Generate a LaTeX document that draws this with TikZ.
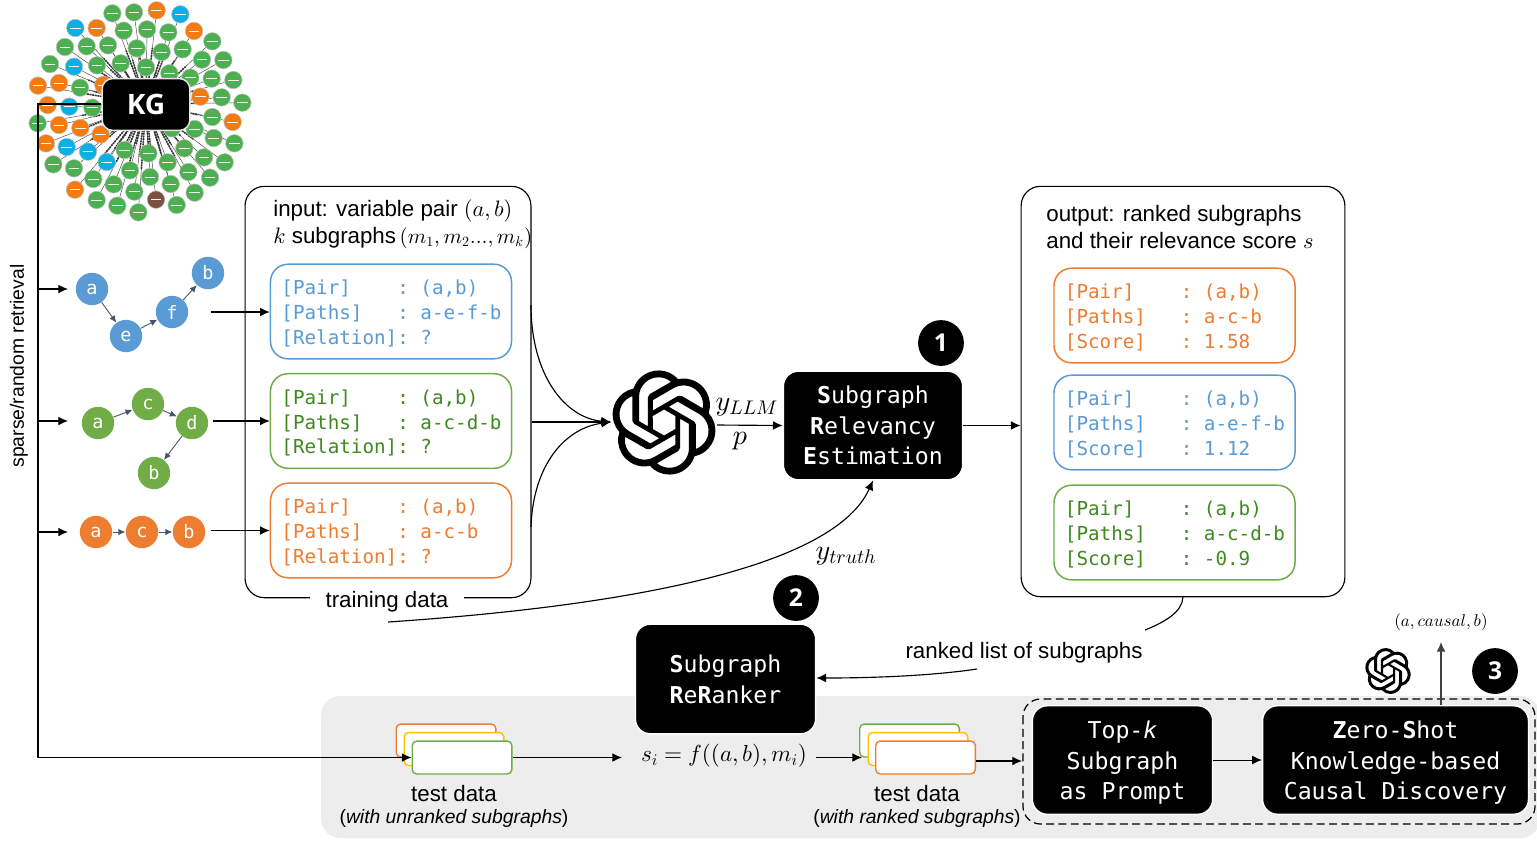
\documentclass[tikz,border=0pt]{standalone}
\usepackage[no-math]{fontspec}
\usepackage{amsmath}
\setmainfont{Liberation Sans}
\setmonofont{DejaVu Sans Mono}
\newfontfamily\kgfont{Open Sans}
\DeclareFontShape{OML}{cmm}{m}{it}{<-8>cmmi7 <8->cmmi10}{}
\DeclareFontShape{OT1}{cmr}{m}{n}{<-8>cmr7 <8->cmr10}{}
\usetikzlibrary{arrows.meta,positioning,calc,backgrounds,svg.path}
\definecolor{cblue}{HTML}{5B9BD5}
\definecolor{cgreen}{HTML}{70AD47}
\definecolor{cgreentext}{HTML}{3F8A1F}
\definecolor{corange}{HTML}{ED7D31}
\definecolor{cyellow}{HTML}{FFC000}
\definecolor{cslate}{HTML}{44546A}
\definecolor{cpanel}{HTML}{EDEDED}
\definecolor{kggreen}{HTML}{4CAF50}
\definecolor{kgorange}{HTML}{F57A10}
\definecolor{kgblue}{HTML}{0AB0E4}
\definecolor{kgbrown}{HTML}{7B5040}
\def\pxu{0.5669pt}
\newcommand{\codesp}{\hphantom{x}}
\tikzset{
  arrowline/.style={-{Latex[length=5.5pt,width=5pt]},line width=.65pt},
  panelbox/.style={draw=black,line width=.65pt,rounded corners=11pt},
  codebox/.style={draw,line width=.85pt,rounded corners=10pt,fill=white,align=left,
    minimum width=242*\pxu,minimum height=95*\pxu,text width=220*\pxu,inner sep=0pt,
    font=\ttfamily\fontsize{10.95}{14.17}\selectfont,execute at begin node={\rule{0pt}{10.6pt}}},
  blackbox/.style={fill=black,draw=white,line width=.8pt,rounded corners=8.5pt,text=white,
    align=center,inner sep=0pt,font=\ttfamily\fontsize{13.2}{17.5}\selectfont},
  badge/.style={circle,fill=black,text=white,minimum size=46*\pxu,inner sep=0pt,
    font=\kgfont\bfseries\fontsize{14}{16}\selectfont},
  plaintext/.style={inner sep=0pt,font=\fontsize{12.7}{15}\selectfont},
  smalltext/.style={inner sep=0pt,font=\fontsize{11}{13}\selectfont},
  mathlabel/.style={inner sep=0pt,font=\fontsize{16}{18}\selectfont},
  stackcard/.style={draw,line width=.8pt,fill=white,rounded corners=2.5pt,
    minimum width=100*\pxu,minimum height=33*\pxu,inner sep=0pt},
  kgdot/.style={circle,draw=black!25,line width=.3pt,minimum size=17.6*\pxu,inner sep=0pt,text=white!80!black!10,font=\fontsize{2}{2}\selectfont},
  oailogo/.pic={\fill[even odd rule,shift={(-12pt,12pt)},yscale=-1] svg {M22.2819 9.8211a5.9847 5.9847 0 0 0-.5157-4.9108 6.0462 6.0462 0 0 0-6.5098-2.9A6.0651 6.0651 0 0 0 4.9807 4.1818a5.9847 5.9847 0 0 0-3.9977 2.9 6.0462 6.0462 0 0 0 .7427 7.0966 5.98 5.98 0 0 0 .511 4.9107 6.051 6.051 0 0 0 6.5146 2.9001A5.9847 5.9847 0 0 0 13.2599 24a6.0557 6.0557 0 0 0 5.7718-4.2058 5.9894 5.9894 0 0 0 3.9977-2.9001 6.0557 6.0557 0 0 0-.7475-7.0729z M13.2599 22.4292a4.4755 4.4755 0 0 1-2.8764-1.0408l.1419-.0804 4.7783-2.7582a.7948.7948 0 0 0 .3927-.6813v-6.7369l2.02 1.1686a.071.071 0 0 1 .038.052v5.5826a4.504 4.504 0 0 1-4.4945 4.4944z M3.5992 18.3038a4.4708 4.4708 0 0 1-.5346-3.0137l.142.0852 4.783 2.7582a.7712.7712 0 0 0 .7806 0l5.8428-3.3685v2.3324a.0804.0804 0 0 1-.0332.0615L9.74 19.9502a4.4992 4.4992 0 0 1-6.1408-1.6464z M2.3408 7.8956a4.485 4.485 0 0 1 2.3655-1.9728V11.6a.7664.7664 0 0 0 .3879.6765l5.8144 3.3543-2.0201 1.1685a.0757.0757 0 0 1-.071 0l-4.8303-2.7865A4.504 4.504 0 0 1 2.3408 7.872z M18.9371 11.7514L13.1038 8.364 15.1192 7.2a.0757.0757 0 0 1 .071 0l4.8303 2.7913a4.4944 4.4944 0 0 1-.6765 8.1042v-5.6772a.79.79 0 0 0-.407-.667z M20.9478 8.7283l-.142-.0852-4.7735-2.7818a.7759.7759 0 0 0-.7854 0L9.409 9.2297V6.8974a.0662.0662 0 0 1 .0284-.0615l4.8303-2.7866a4.4992 4.4992 0 0 1 6.6802 4.66z M8.3065 12.863l-2.02-1.1638a.0804.0804 0 0 1-.038-.0567V6.0742a4.4992 4.4992 0 0 1 7.3757-3.4537l-.142.0805L8.704 5.459a.7948.7948 0 0 0-.3927.6813z M9.4041 10.4976l2.602-1.4998 2.6069 1.4998v2.9994l-2.5974 1.4997-2.6067-1.4997Z};}
}
\begin{document}
\begin{tikzpicture}[x=0.02cm,y=-0.02cm]
        \useasboundingbox (0,0) rectangle (1537,840);
        % knowledge graph cloud
        \coordinate (kgc) at (146,104);
        \foreach \px/\py/\cc [count=\i] in {337/40/kggreen,402/37/kggreen,470/31/kgorange,541/43/kgblue,226/84/kgblue,290/84/kgorange,371/92/kggreen,441/88/kggreen,505/97/kggreen,582/93/kgorange,637/124/kggreen,195/141/kggreen,260/139/kggreen,324/136/kggreen,410/145/kggreen,485/156/kggreen,548/148/kggreen,606/179/kggreen,670/180/kggreen,150/192/kggreen,222/200/kgblue,291/196/kggreen,362/190/kggreen,438/202/kggreen,508/220/kggreen,571/233/kggreen,635/236/kggreen,700/240/kggreen,114/257/kgorange,177/249/kgorange,240/263/kggreen,310/255/kgorange,601/290/kgorange,665/292/kggreen,727/308/kggreen,143/315/kgorange,208/320/kgblue,277/323/kggreen,113/370/kggreen,177/375/kgorange,241/384/kgorange,302/403/kgorange,637/351/kggreen,698/366/kgorange,584/387/kggreen,516/385/kggreen,641/414/kggreen,703/430/kggreen,138/430/kgorange,200/441/kgblue,264/455/kgblue,320/486/kgblue,374/450/kggreen,445/460/kggreen,553/445/kggreen,612/472/kggreen,674/487/kggreen,160/493/kggreen,222/505/kggreen,503/487/kggreen,565/516/kggreen,630/533/kggreen,390/511/kggreen,450/531/kggreen,280/537/kggreen,225/569/kgorange,341/553/kggreen,512/552/kggreen,584/578/kggreen,403/575/kggreen,468/599/kgbrown,530/615/kggreen,290/600/kggreen,352/617/kggreen,415/637/kggreen} {
          \node[kgdot,fill=\cc] (kg\i) at (\px/3,\py/3) {\rule{6pt}{.55pt}};
          \begin{pgfonlayer}{background}
            \draw[black!75,line width=.25pt] (kgc) -- (kg\i);
            \draw[black!80,line width=.9pt,dash pattern=on 1pt off .5pt] (kgc) -- ($(kgc)!.6!(kg\i)$);
          \end{pgfonlayer}
        }
        \node[blackbox,draw=black!10,rounded corners=6pt,minimum width=88*\pxu,minimum height=52*\pxu,font=\kgfont\bfseries\fontsize{16}{18}\selectfont] (kg) at (146,104.5) {KG};
        % retrieval line
        \coordinate (topline) at (38,104);
        \coordinate (botline) at (38,757.5);
        \coordinate (splitA) at (38,289);
        \coordinate (splitB) at (38,421);
        \coordinate (splitC) at (38,532);
        \node[plaintext,font=\fontsize{11}{14}\selectfont,rotate=90] (retrieval) at (19,366) {sparse/random retrieval};
        % panels
        \fill[cpanel,rounded corners=11pt] (321,696) rectangle (1540,838);
        \node[panelbox,minimum width=287*\pxu,minimum height=413*\pxu] (inpanel) at (388,392) {};
        \node[panelbox,minimum width=325*\pxu,minimum height=412*\pxu] (outpanel) at (1183,391.5) {};
        \node[plaintext,anchor=base west] (intextA) at (273,216.7) {input: variable pair $(a,b)$};
        \node[plaintext,anchor=base west] (intextB) at (273,243.5) {$k$ subgraphs\fontsize{12}{15}\selectfont$\,(m_1,m_2...,m_k)$};
        \node[plaintext,anchor=base west] (outtextA) at (1046,221) {output: ranked subgraphs};
        \node[plaintext,anchor=base west] (outtextB) at (1046,248) {and their relevance score $s$};
        \node[plaintext,fill=white,inner xsep=9pt,inner ysep=1pt] (traindata) at (387,602) {training data};
        % subgraph boxes, input side
        \node[codebox,draw=cblue,text=cblue] (inblue) at (391,311.5) {[Pair]\codesp\codesp\codesp\codesp:\codesp(a,b)\\\relax [Paths]\codesp\codesp\codesp:\codesp a-e-f-b\\\relax [Relation]:\codesp ?};
        \node[codebox,draw=cgreen,text=cgreentext] (ingreen) at (391,421) {[Pair]\codesp\codesp\codesp\codesp:\codesp(a,b)\\\relax [Paths]\codesp\codesp\codesp:\codesp a-c-d-b\\\relax [Relation]:\codesp ?};
        \node[codebox,draw=corange,text=corange] (inorange) at (391,530.5) {[Pair]\codesp\codesp\codesp\codesp:\codesp(a,b)\\\relax [Paths]\codesp\codesp\codesp:\codesp a-c-b\\\relax [Relation]:\codesp ?};
        % subgraph boxes, output side
        \node[codebox,draw=corange,text=corange] (outorange) at (1174.5,315.5) {[Pair]\codesp\codesp\codesp\codesp:\codesp(a,b)\\\relax [Paths]\codesp\codesp\codesp:\codesp a-c-b\\\relax [Score]\codesp\codesp\codesp:\codesp 1.58};
        \node[codebox,draw=cblue,text=cblue] (outblue) at (1174.5,422.5) {[Pair]\codesp\codesp\codesp\codesp:\codesp(a,b)\\\relax [Paths]\codesp\codesp\codesp:\codesp a-e-f-b\\\relax [Score]\codesp\codesp\codesp:\codesp 1.12};
        \node[codebox,draw=cgreen,text=cgreentext] (outgreen) at (1174.5,532.5) {[Pair]\codesp\codesp\codesp\codesp:\codesp(a,b)\\\relax [Paths]\codesp\codesp\codesp:\codesp a-c-d-b\\\relax [Score]\codesp\codesp\codesp:\codesp -0.9};
        % small graphs
        \begin{scope}[every node/.style={circle,minimum size=32.5*\pxu,inner sep=0pt,text=white,font=\ttfamily\fontsize{10.5}{12}\selectfont},
            every edge/.style={draw=cslate,line width=.5pt,-{Latex[length=4pt,width=3.6pt]}}]
          \node[fill=cblue] (ba) at (92,289) {a};
          \node[fill=cblue] (be) at (126,336) {e};
          \node[fill=cblue] (bf) at (172,312) {f};
          \node[fill=cblue] (bb) at (208,273) {b};
          \path (ba) edge (be);
          \path (be) edge (bf);
          \path (bf) edge (bb);
          \node[fill=cgreen] (ga) at (98,423) {a};
          \node[fill=cgreen] (gc) at (148,404) {c};
          \node[fill=cgreen] (gd) at (192,423) {d};
          \node[fill=cgreen] (gb) at (154,473) {b};
          \path (ga) edge (gc);
          \path (gc) edge (gd);
          \path (gd) edge (gb);
          \node[fill=corange] (oa) at (96,532) {a};
          \node[fill=corange] (oc) at (142,532) {c};
          \node[fill=corange] (ob) at (189,532) {b};
          \path (oa) edge (oc);
          \path (oc) edge (ob);
        \end{scope}
        \draw[line width=.65pt] (kg.west |- topline) -- (topline) -- (botline);
        \draw[arrowline] (splitA) -- (68,289);
        \draw[arrowline] (splitB) -- (68,421);
        \draw[arrowline] (splitC) -- (68,532);
        \draw[arrowline] (211,312) -- (inblue.west |- 0,312);
        \draw[arrowline] (213,421) -- (ingreen.west);
        \draw[arrowline] (211,530.5) -- (inorange.west);
        % llm
        \pic[scale=2.47] at (664,422.5) {oailogo};
        \coordinate (logoin) at (611,422);
        \coordinate (logoout) at (717,425);
        \coordinate (curvetop) at (531,305);
        \coordinate (curvebot) at (531,527);
        \draw[arrowline] (curvetop) .. controls (531,375) and (565,418) .. (logoin);
        \draw[arrowline] (inpanel.east |- logoin) -- (logoin);
        \draw[arrowline] (curvebot) .. controls (533,465) and (565,428) .. (logoin);
        \node[blackbox,minimum width=180*\pxu,minimum height=109*\pxu] (relevancy) at (873,425.5) {\textbf{S}ubgraph\\\textbf{R}elevancy\\\textbf{E}stimation};
        \draw[arrowline] (logoout) -- (relevancy.west);
        \node[mathlabel] (yllm) at (747,407) {$y_{LLM}$};
        \node[mathlabel] (plabel) at (740,441) {$p$};
        \node[badge] (one) at (941,343) {1};
        \draw[arrowline] (relevancy.east) -- (outpanel.west |- relevancy.east);
        % truth curve
        \coordinate (truthstart) at (388,622);
        \draw[arrowline] (truthstart) .. controls (640,605) and (835,565) .. (relevancy.south);
        \node[mathlabel] (ytruth) at (846,556) {$y_{truth}$};
        \node[badge] (two) at (796,598) {2};
        % reranker
        \node[blackbox,minimum width=181*\pxu,minimum height=110*\pxu] (reranker) at (725.5,679) {\textbf{S}ubgraph\\\textbf{R}e\textbf{R}anker};
        \coordinate (listA) at (1145,630);
        \coordinate (listB) at (977,669);
        \draw[line width=.65pt] (outpanel.south) .. controls (1182,612) and (1165,622) .. (listA);
        \node[plaintext] (ranked) at (1024,653) {ranked list of subgraphs};
        \draw[arrowline] (listB) .. controls (930,676) and (870,678) .. (reranker.east |- 0,678);
        % test data, left
        \node[stackcard,draw=corange] (lorange) at (446,740.5) {};
        \node[stackcard,draw=cyellow] (lyellow) at (454,749) {};
        \node[stackcard,draw=cgreen] (lgreen) at (462,757.5) {};
        \draw[arrowline] (botline) -- (lgreen.west);
        \node[plaintext] (ltest) at (454,794) {test data};
        \node[smalltext] (lnote) at (454,818.5) {(\textit{with unranked subgraphs})};
        \node[inner sep=0pt,font=\fontsize{13.2}{15}\selectfont] (score) at (724,756) {$s_i=f((a,b),m_i)$};
        \coordinate (scorein) at (622,757.5);
        \coordinate (scoreout) at (816,757.5);
        \draw[arrowline] (lgreen.east) -- (scorein);
        % test data, right
        \node[stackcard,draw=cgreen] (rgreen) at (909.5,740.5) {};
        \node[stackcard,draw=cyellow] (ryellow) at (918,749) {};
        \node[stackcard,draw=corange] (rorange) at (925.5,757.5) {};
        \draw[arrowline] (scoreout) -- (862,757.5);
        \node[plaintext] (rtest) at (917,794) {test data};
        \node[smalltext] (rnote) at (917,818.5) {(\textit{with ranked subgraphs})};
        % prompt group
        \draw[dashed,dash pattern=on 4.5pt off 2.5pt,line width=.7pt,rounded corners=10pt] (1023,699) rectangle (1535,824);
        \coordinate (groupin) at (1022,761);
        \draw[arrowline] (rorange.east |- groupin) -- (groupin);
        \node[blackbox,minimum width=181*\pxu,minimum height=109*\pxu] (topk) at (1122.5,760) {\rule{0pt}{13pt}Top-\textit{k}\\Subgraph\\as Prompt};
        \node[blackbox,minimum width=267*\pxu,minimum height=109*\pxu] (zeroshot) at (1395.5,760) {\rule{0pt}{13pt}\textbf{Z}ero-\textbf{S}hot\\Knowledge-based\\Causal Discovery};
        \draw[arrowline,line width=.5pt] (topk) -- (zeroshot);
        \node[inner sep=0pt,font=\fontsize{9.7}{12}\selectfont] (triple) at (1441,622) {$(a,causal,b)$};
        \draw[arrowline,black!75] (zeroshot.north -| triple) -- (1441,642);
        \pic[scale=1.09] at (1388,671) {oailogo};
        \node[badge] (three) at (1495,671) {3};
\end{tikzpicture}
\end{document}
